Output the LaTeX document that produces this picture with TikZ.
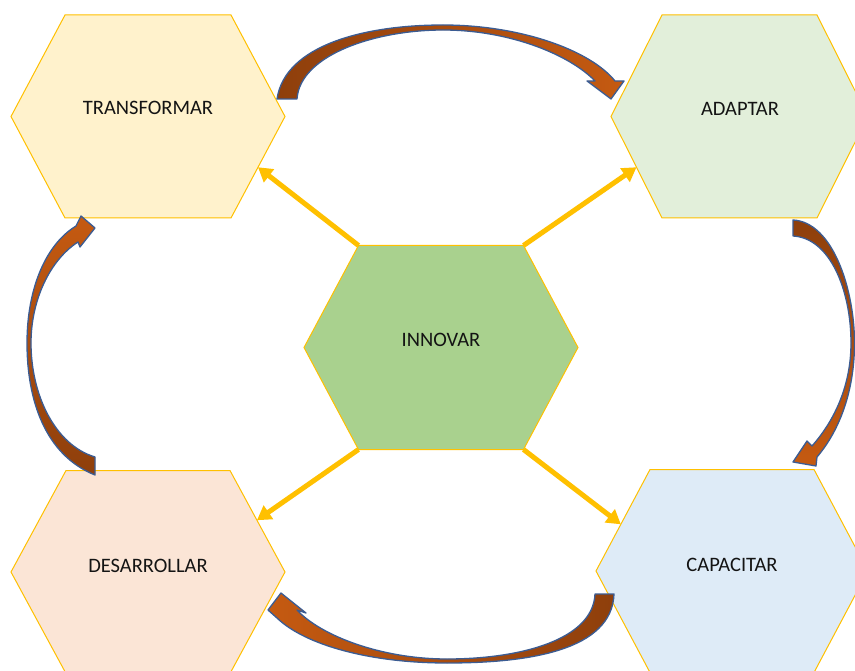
\documentclass[tikz,border=0pt]{standalone}
\usepackage{fontspec}
\setmainfont{Carlito}
\usetikzlibrary{arrows.meta,calc}
\definecolor{hexline}{HTML}{FFC000}
\definecolor{fillT}{HTML}{FFF2CC}
\definecolor{fillA}{HTML}{E2EFDA}
\definecolor{fillD}{HTML}{FBE5D6}
\definecolor{fillC}{HTML}{DEEBF7}
\definecolor{fillI}{HTML}{A9D18E}
\definecolor{yarr}{HTML}{FFC000}
\definecolor{brdark}{HTML}{8E3F0C}
\definecolor{brlight}{HTML}{C55A11}
\definecolor{bline}{HTML}{3B5C93}
\definecolor{txt}{HTML}{141414}
\newcommand\myhex[7]{%
  \coordinate (#1-l) at ({#2-#4},{#3});
  \coordinate (#1-tl) at ({#2-#5},{#3-#6});
  \coordinate (#1-tr) at ({#2+#5},{#3-#6});
  \coordinate (#1-r) at ({#2+#4},{#3});
  \coordinate (#1-br) at ({#2+#5},{#3+#6});
  \coordinate (#1-bl) at ({#2-#5},{#3+#6});
  \draw[hexstyle,fill=#7] (#1-l) -- (#1-tl) -- (#1-tr) -- (#1-r) -- (#1-br) -- (#1-bl) -- cycle;
}
\tikzset{
  hexstyle/.style={draw=hexline,line width=1pt,line join=miter},
  label/.style={inner sep=0pt,text=txt,font=\fontsize{20.5}{24}\selectfont},
  yarrow/.style={draw=yarr,line width=5pt,-{Triangle[length=14pt,width=16pt]}},
  curv/.style={draw=bline,line width=1.3pt,line join=round}
}
\begin{document}
\begin{tikzpicture}[x=1pt,y=-1pt]
\useasboundingbox (0,0) rectangle (855,671);
\clip (0,0) rectangle (855,671);
\fill[white] (0,0) rectangle (855,671);

\myhex{tr}{148}{116.5}{137}{83}{101.5}{fillT}
\myhex{ad}{739.5}{116.5}{128.5}{77.5}{101.5}{fillA}
\myhex{de}{148}{572}{137}{82}{101.5}{fillD}
\myhex{ca}{732}{571}{136}{82}{101.5}{fillC}
\myhex{in}{441}{347.5}{137}{82.5}{102}{fillI}

\node[label] (t1) at (148,108) {TRANSFORMAR};
\node[label] (t2) at (740,108.5) {ADAPTAR};
\node[label] (t3) at (148,565.5) {DESARROLLAR};
\node[label] (t4) at (732,564.5) {CAPACITAR};
\node[label] (t5) at (441,339.5) {INNOVAR};

\coordinate (eT) at ($(tr-r)!0.5!(tr-br)$);
\coordinate (eA) at ($(ad-l)!0.5!(ad-bl)$);
\coordinate (eD) at ($(de-tr)!0.49!(de-r)$);
\coordinate (eC) at ($(ca-tl)!0.54!(ca-l)$);
\draw[yarrow] (in-tl) -- (eT);
\draw[yarrow] (in-tr) -- (eA);
\draw[yarrow] (in-bl) -- (eD);
\draw[yarrow] (in-br) -- (eC);

% top curved arrow (TRANSFORMAR -> ADAPTAR)
\draw[curv,left color=brdark,right color=brlight]
  (277,99) .. controls (285,45) and (365,25) .. (443,25)
  .. controls (520,25) and (590,50) .. (615,81)
  -- (624,81) -- (611,99) -- (587,81) -- (595,81)
  .. controls (570,55) and (510,30) .. (443,30)
  .. controls (375,30) and (300,55) .. (297,99) -- cycle;

% right curved arrow (ADAPTAR -> CAPACITAR)
\draw[curv,top color=brdark,bottom color=brlight]
  (793,220) .. controls (833,222) and (854.5,290) .. (854.5,343)
  .. controls (854.5,390) and (840,430) .. (817,457)
  -- (816,466) -- (793,462) -- (807,441) -- (812,446)
  .. controls (835,420) and (851,385) .. (851,343)
  .. controls (851,290) and (830,238) .. (793,236) -- cycle;

% bottom curved arrow (CAPACITAR -> DESARROLLAR)
\draw[curv,right color=brdark,left color=brlight]
  (614,594) .. controls (612,650) and (530,663) .. (447,663)
  .. controls (370,663) and (305,645) .. (277,618)
  -- (268,610) -- (281,593) -- (306,613) -- (297,610)
  .. controls (320,635) and (380,659) .. (447,659)
  .. controls (520,659) and (593,640) .. (595,594) -- cycle;

% left curved arrow (DESARROLLAR -> TRANSFORMAR)
\draw[curv,bottom color=brdark,top color=brlight]
  (95,475) .. controls (45,455) and (27,400) .. (27,343)
  .. controls (27,290) and (45,245) .. (76,226)
  -- (81,216) -- (95,228) -- (80,247) -- (78,242)
  .. controls (50,260) and (31,300) .. (31,343)
  .. controls (31,395) and (55,445) .. (95,457) -- cycle;
\end{tikzpicture}
\end{document}
